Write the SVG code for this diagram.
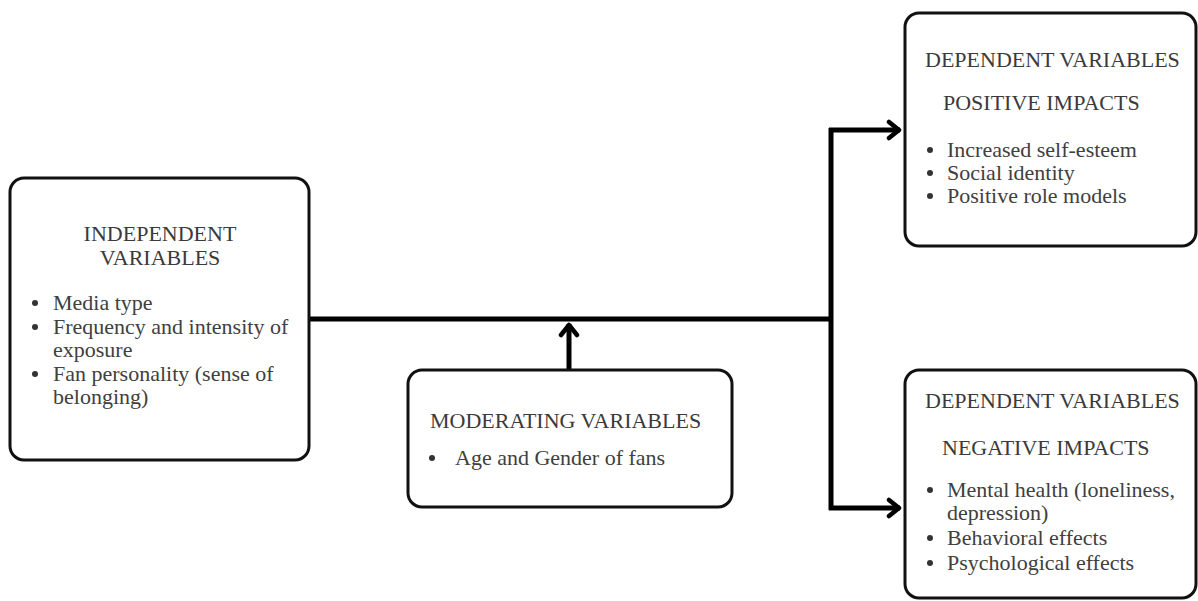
<svg xmlns="http://www.w3.org/2000/svg" width="1198" height="601" viewBox="0 0 1198 601">
<style>
.box{fill:#ffffff;stroke:#111;stroke-width:3}
.h{font-family:"Liberation Serif","Times New Roman",serif;font-size:22px;fill:#3a3a3a}
.t{font-family:"Liberation Serif","Times New Roman",serif;font-size:22px;fill:#404040}
.b{fill:#333}
.c{fill:none;stroke:#000;stroke-width:5}
</style>
<defs>
<marker id="arr" viewBox="0 0 16 22" refX="14" refY="11" markerWidth="16" markerHeight="22" markerUnits="userSpaceOnUse" orient="auto">
<path d="M3,3 L13,11 L3,19" fill="none" stroke="#000" stroke-width="4.5" stroke-linecap="round" stroke-linejoin="round"/>
</marker>
</defs>
<rect width="1198" height="601" fill="#fff"/>
<g id="connectors">
<path class="c" d="M309,319 H831"/>
<path class="c" d="M831,128 V510"/>
<path class="c" d="M829,130 H900" marker-end="url(#arr)"/>
<path class="c" d="M829,508 H900" marker-end="url(#arr)"/>
<path class="c" d="M569,369 V324" stroke-width="4.5" marker-end="url(#arr)"/>
</g>
<g id="independent">
<rect class="box" x="10" y="178" width="299" height="282" rx="14"/>
<text class="h" x="160" y="241" text-anchor="middle">INDEPENDENT</text>
<text class="h" x="160" y="265" text-anchor="middle">VARIABLES</text>
<circle class="b" cx="35" cy="303" r="3"/>
<text class="t" x="53" y="310">Media type</text>
<circle class="b" cx="35" cy="327" r="3"/>
<text class="t" x="53" y="334">Frequency and intensity of</text>
<text class="t" x="53" y="357">exposure</text>
<circle class="b" cx="35" cy="374" r="3"/>
<text class="t" x="53" y="381">Fan personality (sense of</text>
<text class="t" x="53" y="404">belonging)</text>
</g>
<g id="moderating">
<rect class="box" x="408" y="370" width="324" height="137" rx="14"/>
<text class="h" x="430" y="428">MODERATING VARIABLES</text>
<circle class="b" cx="432" cy="458" r="3"/>
<text class="t" x="455" y="465">Age and Gender of fans</text>
</g>
<g id="positive">
<rect class="box" x="905" y="13" width="291" height="233" rx="14"/>
<text class="h" x="925" y="67">DEPENDENT VARIABLES</text>
<text class="h" x="943" y="110">POSITIVE IMPACTS</text>
<circle class="b" cx="930" cy="150" r="3"/>
<text class="t" x="947" y="157">Increased self-esteem</text>
<circle class="b" cx="930" cy="173" r="3"/>
<text class="t" x="947" y="180">Social identity</text>
<circle class="b" cx="930" cy="196" r="3"/>
<text class="t" x="947" y="203">Positive role models</text>
</g>
<g id="negative">
<rect class="box" x="905" y="370" width="291" height="228" rx="14"/>
<text class="h" x="925" y="408">DEPENDENT VARIABLES</text>
<text class="h" x="942" y="455">NEGATIVE IMPACTS</text>
<circle class="b" cx="930" cy="490" r="3"/>
<text class="t" x="947" y="497">Mental health (loneliness,</text>
<text class="t" x="947" y="520">depression)</text>
<circle class="b" cx="930" cy="538" r="3"/>
<text class="t" x="947" y="545">Behavioral effects</text>
<circle class="b" cx="930" cy="563" r="3"/>
<text class="t" x="947" y="570">Psychological effects</text>
</g>
</svg>
